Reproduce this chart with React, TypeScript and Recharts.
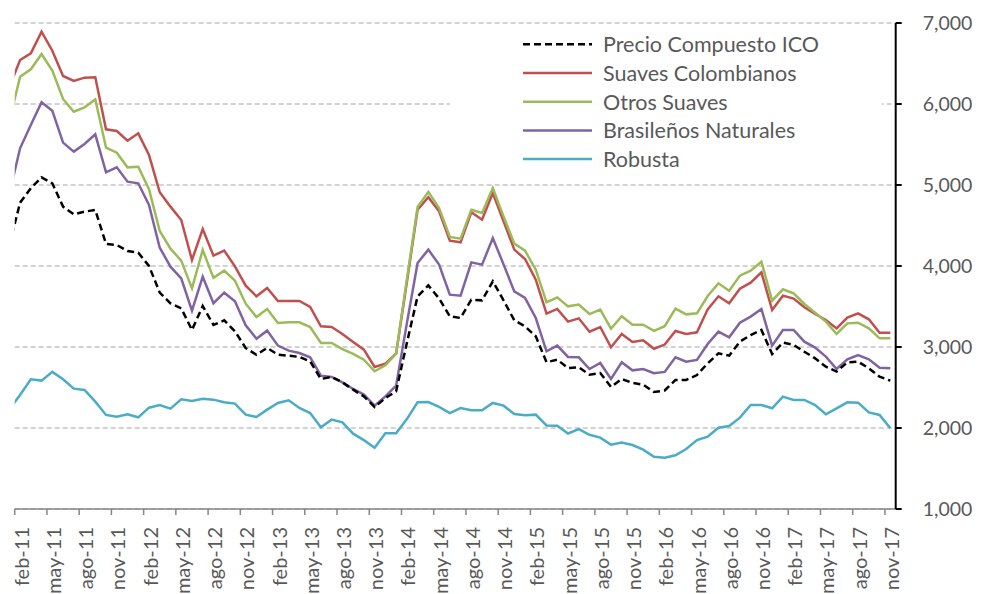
import React from 'react';
import { LineChart, Line, XAxis, YAxis, CartesianGrid, Legend } from 'recharts';

// Monthly categories (ene-11 is only partly visible at the left edge)
const months = [
  'ene-11','feb-11','mar-11','abr-11','may-11','jun-11','jul-11','ago-11','sep-11','oct-11','nov-11','dic-11',
  'ene-12','feb-12','mar-12','abr-12','may-12','jun-12','jul-12','ago-12','sep-12','oct-12','nov-12','dic-12',
  'ene-13','feb-13','mar-13','abr-13','may-13','jun-13','jul-13','ago-13','sep-13','oct-13','nov-13','dic-13',
  'ene-14','feb-14','mar-14','abr-14','may-14','jun-14','jul-14','ago-14','sep-14','oct-14','nov-14','dic-14',
  'ene-15','feb-15','mar-15','abr-15','may-15','jun-15','jul-15','ago-15','sep-15','oct-15','nov-15','dic-15',
  'ene-16','feb-16','mar-16','abr-16','may-16','jun-16','jul-16','ago-16','sep-16','oct-16','nov-16','dic-16',
  'ene-17','feb-17','mar-17','abr-17','may-17','jun-17','jul-17','ago-17','sep-17','oct-17','nov-17',
];

const tickLabels = [
  'feb-11','may-11','ago-11','nov-11','feb-12','may-12','ago-12','nov-12',
  'feb-13','may-13','ago-13','nov-13','feb-14','may-14','ago-14','nov-14',
  'feb-15','may-15','ago-15','nov-15','feb-16','may-16','ago-16','nov-16',
  'feb-17','may-17','ago-17','nov-17',
];

const yTicks = [1000, 2000, 3000, 4000, 5000, 6000, 7000];

const precioCompuestoICO = [
  4255, 4782, 4959, 5095, 5021, 4733, 4638, 4671, 4692, 4272, 4260, 4185, 4165, 4000, 3671, 3539, 3478,
  3210, 3506, 3272, 3329, 3194, 2988, 2905, 2988, 2905, 2893, 2877, 2823, 2605, 2630, 2564, 2473,
  2391, 2259, 2370, 2453, 3050, 3626, 3760, 3600, 3379, 3358, 3584, 3576, 3811, 3576, 3329, 3255,
  3132, 2811, 2844, 2741, 2749, 2659, 2679, 2506, 2605, 2556, 2535, 2445, 2463, 2593, 2593, 2654,
  2798, 2922, 2893, 3066, 3148, 3210, 2914, 3054, 3025, 2942, 2860, 2757, 2696, 2811, 2819, 2737,
  2634, 2584,
];

const suavesColombianos = [
  6210, 6543, 6626, 6893, 6658, 6346, 6284, 6325, 6329, 5687, 5667, 5547, 5638, 5370, 4910, 4733, 4568,
  4074, 4457, 4128, 4190, 3996, 3757, 3626, 3729, 3568, 3568, 3568, 3494, 3255, 3247, 3161, 3062,
  2967, 2753, 2794, 2918, 3800, 4696, 4850, 4675, 4313, 4292, 4663, 4572, 4901, 4551, 4202, 4086,
  3831, 3412, 3470, 3313, 3354, 3189, 3247, 2996, 3161, 3062, 3083, 2978, 3030, 3198, 3161, 3181,
  3465, 3626, 3539, 3720, 3794, 3922, 3457, 3634, 3597, 3490, 3407, 3333, 3230, 3362, 3416, 3342,
  3177, 3177,
];

const otrosSuaves = [
  5790, 6337, 6428, 6617, 6412, 6062, 5905, 5959, 6058, 5461, 5399, 5218, 5226, 4947, 4432, 4214, 4066,
  3724, 4198, 3854, 3943, 3819, 3535, 3370, 3469, 3297, 3305, 3305, 3247, 3050, 3050, 2975, 2914,
  2844, 2700, 2774, 2918, 3835, 4728, 4915, 4716, 4358, 4337, 4695, 4654, 4963, 4613, 4276, 4189,
  3955, 3551, 3613, 3502, 3523, 3407, 3461, 3226, 3379, 3276, 3276, 3200, 3257, 3473, 3403, 3416,
  3630, 3786, 3695, 3881, 3942, 4053, 3572, 3712, 3663, 3531, 3424, 3313, 3161, 3292, 3300, 3230,
  3107, 3107,
];

const brasilenosNaturales = [
  4889, 5453, 5741, 6021, 5918, 5523, 5412, 5506, 5626, 5156, 5218, 5041, 5021, 4753, 4226, 3992, 3848,
  3449, 3868, 3540, 3670, 3564, 3268, 3103, 3202, 3017, 2955, 2926, 2873, 2646, 2630, 2564, 2482,
  2412, 2276, 2391, 2523, 3292, 4037, 4202, 4017, 3646, 3634, 4045, 4017, 4346, 4020, 3687, 3605,
  3358, 2947, 3017, 2877, 2873, 2728, 2803, 2605, 2811, 2712, 2728, 2677, 2693, 2873, 2819, 2840,
  3037, 3189, 3119, 3300, 3375, 3469, 3017, 3210, 3210, 3066, 2992, 2881, 2728, 2848, 2901, 2848,
  2745, 2737,
];

const robusta = [
  2227, 2408, 2601, 2585, 2693, 2601, 2486, 2469, 2325, 2161, 2140, 2169, 2132, 2251, 2284, 2239, 2354,
  2334, 2362, 2350, 2317, 2301, 2165, 2136, 2227, 2309, 2342, 2247, 2185, 2008, 2103, 2070, 1930,
  1850, 1757, 1935, 1935, 2110, 2317, 2320, 2260, 2185, 2247, 2218, 2218, 2309, 2276, 2173, 2157,
  2165, 2031, 2027, 1932, 1986, 1916, 1881, 1795, 1821, 1790, 1733, 1646, 1634, 1663, 1741, 1850,
  1893, 2004, 2025, 2128, 2284, 2284, 2243, 2387, 2346, 2346, 2284, 2169, 2243, 2317, 2313, 2193,
  2161, 1996,
];

const FONT = 'Lato, "Open Sans", sans-serif';
const TEXT_COLOR = '#595959';

const series = [
  { key: 'ico', name: 'Precio Compuesto ICO', values: precioCompuestoICO, color: '#000000', dash: '7 4' },
  { key: 'col', name: 'Suaves Colombianos', values: suavesColombianos, color: '#C0504D', dash: undefined },
  { key: 'otr', name: 'Otros Suaves', values: otrosSuaves, color: '#9BBB59', dash: undefined },
  { key: 'bra', name: 'Brasileños Naturales', values: brasilenosNaturales, color: '#8064A2', dash: undefined },
  { key: 'rob', name: 'Robusta', values: robusta, color: '#4BACC6', dash: undefined },
];

// drawing order (bottom to top)
const drawOrder = ['rob', 'bra', 'col', 'otr', 'ico'];

const data = months.map((m, i) => {
  const row: Record<string, number | string> = { x: i, month: m };
  series.forEach((s) => {
    row[s.key] = s.values[i];
  });
  return row;
});

// tick marks sit on month boundaries, half a month before each labelled point
const xTicks = tickLabels.map((l) => months.indexOf(l) - 0.5);
const xDomain = [months.indexOf('feb-11') - 0.5, months.length - 0.5];

const XTick = (props: any) => {
  const { x, y, payload } = props;
  const label = months[Math.round(payload.value + 0.5)];
  return (
    <g transform={`translate(${x},${y})`}>
      <text
        transform="rotate(-90)"
        x={0}
        y={0}
        dy="0.7em"
        textAnchor="end"
        fill={TEXT_COLOR}
        fontSize={20}
        fontFamily={FONT}
      >
        {label}
      </text>
    </g>
  );
};

const LegendBox = () => (
  <svg width={432} height={157} style={{ display: 'block' }}>
    {series.map((s, i) => {
      const cy = 19.3 + i * 28.7;
      return (
        <g key={s.key}>
          <line
            x1={73}
            x2={142}
            y1={cy}
            y2={cy}
            stroke={s.color}
            strokeWidth={2.5}
            strokeDasharray={s.dash}
          />
          <text
            x={153}
            y={cy}
            dominantBaseline="central"
            fill={TEXT_COLOR}
            fontSize={21.5}
            fontFamily={FONT}
          >
            {s.name}
          </text>
        </g>
      );
    })}
  </svg>
);

export default function App() {
  return (
    <div style={{ position: 'absolute', left: 0, top: 0, width: 982, height: 594, background: '#fff' }}>
      <LineChart
        width={982}
        height={594}
        data={data}
        margin={{ top: 23, right: 0, bottom: 0, left: 14.7 }}
      >
        <CartesianGrid
          horizontal
          vertical={false}
          stroke="#a6a6a6"
          strokeDasharray="5 3"
          strokeWidth={1}
        />
        <XAxis
          dataKey="x"
          type="number"
          domain={xDomain}
          ticks={xTicks}
          interval={0}
          allowDataOverflow
          height={85}
          tickSize={6}
          tickMargin={12}
          axisLine={{ stroke: '#868686', strokeWidth: 1.5 }}
          tickLine={{ stroke: '#868686', strokeWidth: 1.5 }}
          tick={<XTick />}
        />
        <YAxis
          orientation="right"
          type="number"
          domain={[1000, 7000]}
          ticks={yTicks}
          interval={0}
          allowDataOverflow
          width={86.3}
          tickSize={6}
          tickMargin={21}
          axisLine={{ stroke: '#000', strokeWidth: 2 }}
          tickLine={{ stroke: '#000', strokeWidth: 2 }}
          tick={{ fill: TEXT_COLOR, fontSize: 19.5, fontFamily: FONT }}
          tickFormatter={(v: number) => v.toLocaleString('en-US')}
        />
        <Legend
          layout="horizontal"
          verticalAlign="middle"
          align="center"
          content={() => <LegendBox />}
          wrapperStyle={{ position: 'absolute', left: 450, top: 25, width: 432, height: 157, background: '#fff' }}
        />
        {drawOrder.map((k) => {
          const s = series.find((d) => d.key === k)!;
          return (
            <Line
              key={s.key}
              type="linear"
              dataKey={s.key}
              name={s.name}
              stroke={s.color}
              strokeWidth={2.5}
              strokeDasharray={s.dash}
              dot={false}
              activeDot={false}
              isAnimationActive={false}
            />
          );
        })}
      </LineChart>
    </div>
  );
}
